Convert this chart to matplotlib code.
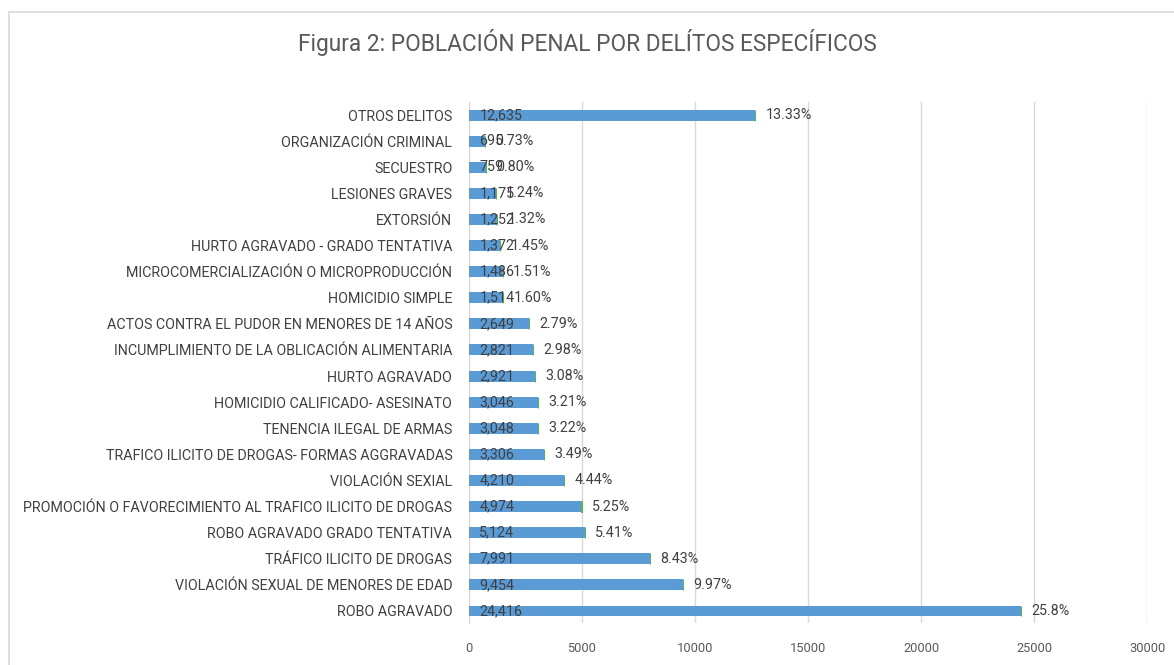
import matplotlib
matplotlib.use("Agg")
import matplotlib.pyplot as plt
from matplotlib.patches import Rectangle

categories = [
    "ROBO AGRAVADO",
    "VIOLACIÓN SEXUAL DE MENORES DE EDAD",
    "TRÁFICO ILICITO DE DROGAS",
    "ROBO AGRAVADO GRADO TENTATIVA",
    "PROMOCIÓN O FAVORECIMIENTO AL TRAFICO ILICITO DE DROGAS",
    "VIOLACIÓN SEXIAL",
    "TRAFICO ILICITO DE DROGAS- FORMAS AGGRAVADAS",
    "TENENCIA ILEGAL DE ARMAS",
    "HOMICIDIO CALIFICADO- ASESINATO",
    "HURTO AGRAVADO",
    "INCUMPLIMIENTO DE LA OBLICACIÓN ALIMENTARIA",
    "ACTOS CONTRA EL PUDOR EN MENORES DE 14 AÑOS",
    "HOMICIDIO SIMPLE",
    "MICROCOMERCIALIZACIÓN O MICROPRODUCCIÓN",
    "HURTO AGRAVADO - GRADO TENTATIVA",
    "EXTORSIÓN",
    "LESIONES GRAVES",
    "SECUESTRO",
    "ORGANIZACIÓN CRIMINAL",
    "OTROS DELITOS",
]
values = [24416, 9454, 7991, 5124, 4974, 4210, 3306, 3048, 3046, 2921,
          2821, 2649, 1514, 1486, 1372, 1252, 1175, 759, 695, 12635]
percents = [25.8, 9.97, 8.43, 5.41, 5.25, 4.44, 3.49, 3.22, 3.21, 3.08,
            2.98, 2.79, 1.60, 1.51, 1.45, 1.32, 1.24, 0.80, 0.73, 13.33]
pct_labels = ["25.8%", "9.97%", "8.43%", "5.41%", "5.25%", "4.44%", "3.49%",
              "3.22%", "3.21%", "3.08%", "2.98%", "2.79%", "1.60%", "1.51%",
              "1.45%", "1.32%", "1.24%", "0.80%", "0.73%", "13.33%"]
xticks = [0, 5000, 10000, 15000, 20000, 25000, 30000]
title = "Figura 2: POBLACIÓN PENAL POR DELÍTOS ESPECÍFICOS"

font = "Roboto"

fig = plt.figure(figsize=(11.74, 6.65), dpi=100)
fig.patches.append(Rectangle((9 / 1174, -0.05), 1.1, 1 - 12 / 665 + 0.05,
                             transform=fig.transFigure, fill=False,
                             edgecolor="#d9d9d9", linewidth=1.2))
ax = fig.add_axes([469 / 1174, 1 - 623 / 665, (1147 - 469) / 1174, (623 - 102) / 665])

y = list(range(len(categories)))
ax.barh(y, values, height=0.42, color="#5B9BD5", zorder=3)
ax.barh(y, percents, left=values, height=0.42, color="#70AD47",
        edgecolor="#70AD47", linewidth=0.8, zorder=3)

for yi, v, p, pl in zip(y, values, percents, pct_labels):
    ax.annotate(f"{v:,}", xy=(0, yi), xytext=(7.5, 0), textcoords="offset points",
                ha="left", va="center", fontsize=10.3, color="#404040",
                family=font, zorder=4)
    ax.annotate(pl, xy=(v + p, yi), xytext=(7.5, 0), textcoords="offset points",
                ha="left", va="center", fontsize=10.3, color="#404040",
                family=font, zorder=4)

ax.set_xlim(0, 30000)
ax.set_ylim(-0.46, 19.5)
ax.set_xticks(xticks)
ax.set_xticklabels([str(t) for t in xticks], family=font, fontsize=9.3, color="#595959")
ax.set_yticks(y)
ax.set_yticklabels(categories, family=font, fontsize=10.3, color="#404040")
ax.tick_params(axis="both", length=0)
ax.tick_params(axis="x", pad=14)
ax.tick_params(axis="y", pad=12)
ax.grid(axis="x", color="#d9d9d9", linewidth=1, zorder=0)
for s in ["top", "right", "bottom"]:
    ax.spines[s].set_visible(False)
ax.spines["left"].set_color("#d9d9d9")
ax.spines["left"].set_zorder(1)

fig.text(0.5, 1 - 42 / 665, title, ha="center", va="center",
         fontsize=16.3, color="#595959", family=font)

fig.savefig("out.png", dpi=100)
